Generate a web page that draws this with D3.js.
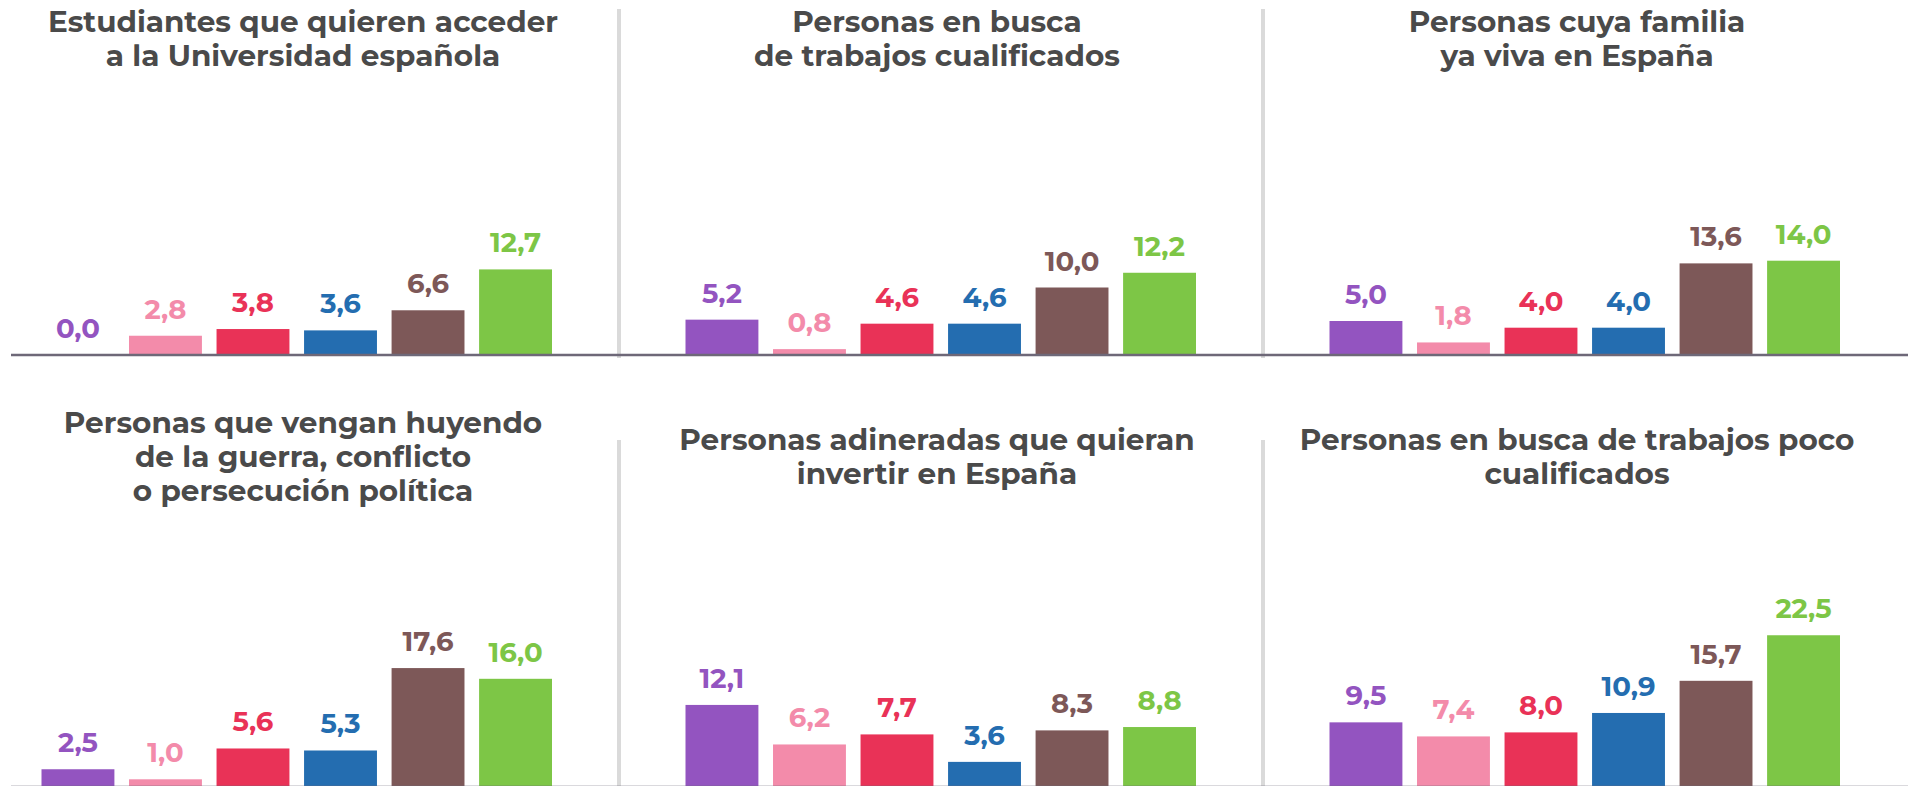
<!DOCTYPE html>
<html>
<head>
<meta charset="utf-8">
<script src="https://cdn.jsdelivr.net/npm/d3@7"></script>
<style>
  html, body { margin: 0; padding: 0; background: #fff; }
  svg { display: block; }
  .title { font-family: Montserrat, Inter, "Open Sans", sans-serif; font-weight: 700; fill: #4a4a4a; }
  .lbl { font-family: Montserrat, Inter, "Open Sans", sans-serif; font-weight: 700; }
</style>
</head>
<body>
<div id="chart"></div>
<script>
// one colour per group, same order in every panel
var groups = ["morado", "rosa", "rojo", "azul", "marron", "verde"];
var colors = ["#9354c0", "#f38baa", "#e93257", "#246db0", "#7d5858", "#7dc646"];

var titles = [
  ["Estudiantes que quieren acceder", "a la Universidad española"],
  ["Personas en busca", "de trabajos cualificados"],
  ["Personas cuya familia", "ya viva en España"],
  ["Personas que vengan huyendo", "de la guerra, conflicto", "o persecución política"],
  ["Personas adineradas que quieran", "invertir en España"],
  ["Personas en busca de trabajos poco", "cualificados"]
];

var universidad = [0.0, 2.8, 3.8, 3.6, 6.6, 12.7];
var cualificados = [5.2, 0.8, 4.6, 4.6, 10.0, 12.2];
var familia = [5.0, 1.8, 4.0, 4.0, 13.6, 14.0];
var guerra = [2.5, 1.0, 5.6, 5.3, 17.6, 16.0];
var invertir = [12.1, 6.2, 7.7, 3.6, 8.3, 8.8];
var pocoCualificados = [9.5, 7.4, 8.0, 10.9, 15.7, 22.5];

var panels = [universidad, cualificados, familia, guerra, invertir, pocoCualificados];

var W = 1908, H = 786;
var panelW = 644, panelStart = -25;
var rowBase = [354.5, 786];      // baseline of bars per row
var rowTitleMid = [48.5, 467];   // vertical centre of title block
var titleX = [303, 937, 1577];
var lineH = 34;

var fmt = d3.formatLocale({decimal: ",", thousands: ".", grouping: [3], currency: ["", "€"]}).format(".1f");

var x = d3.scaleBand().domain(groups).range([66.5, 577]).paddingInner(0.167).paddingOuter(0);
var y = d3.scaleLinear().domain([0, 25]).range([0, 167.5]);
var color = d3.scaleOrdinal().domain(groups).range(colors);

var svg = d3.select("#chart").append("svg")
  .attr("width", W).attr("height", H);

svg.append("rect").attr("width", W).attr("height", H).attr("fill", "#fff");

// separators
[0, 1].forEach(function(r) {
  [1, 2].forEach(function(c) {
    svg.append("rect")
      .attr("x", panelStart + c * panelW - 2)
      .attr("y", r == 0 ? 9 : 440)
      .attr("width", 4)
      .attr("height", r == 0 ? 349 : 346)
      .attr("fill", "#dadada");
  });
});

panels.forEach(function(vals, i) {
  var col = i % 3, row = Math.floor(i / 3);
  var base = rowBase[row];
  var g = svg.append("g")
    .attr("transform", "translate(" + (panelStart + col * panelW) + ",0)");

  var rows = groups.map(function(k, j) { return {key: k, v: vals[j]}; });

  g.selectAll("rect.bar")
    .data(rows)
    .enter().append("rect")
    .attr("class", "bar")
    .attr("x", function(d) { return x(d.key); })
    .attr("width", x.bandwidth())
    .attr("y", function(d) { return base - y(d.v); })
    .attr("height", function(d) { return y(d.v); })
    .attr("fill", function(d) { return color(d.key); });

  g.selectAll("text.lbl")
    .data(rows)
    .enter().append("text")
    .attr("class", "lbl")
    .attr("x", function(d) { return x(d.key) + x.bandwidth() / 2; })
    .attr("y", function(d) { return base - y(d.v) - 17; })
    .attr("text-anchor", "middle")
    .attr("font-size", 27.5)
    .attr("fill", function(d) { return color(d.key); })
    .text(function(d) { return fmt(d.v); });

  var lines = titles[i];
  var first = rowTitleMid[row] - (lines.length - 1) * lineH / 2;
  svg.append("text")
    .attr("class", "title")
    .attr("text-anchor", "middle")
    .attr("font-size", 29.5)
    .selectAll("tspan")
    .data(lines)
    .enter().append("tspan")
    .attr("x", titleX[col])
    .attr("y", function(d, k) { return first + k * lineH; })
    .text(function(d) { return d; });
});

// baselines
svg.append("line")
  .attr("x1", 11).attr("x2", W)
  .attr("y1", rowBase[0] + 0.5).attr("y2", rowBase[0] + 0.5)
  .attr("stroke", "#6e6878").attr("stroke-width", 2.7);
svg.append("line")
  .attr("x1", 11).attr("x2", W)
  .attr("y1", rowBase[1] + 1.2).attr("y2", rowBase[1] + 1.2)
  .attr("stroke", "#6e6878").attr("stroke-width", 2.7);
</script>
</body>
</html>
